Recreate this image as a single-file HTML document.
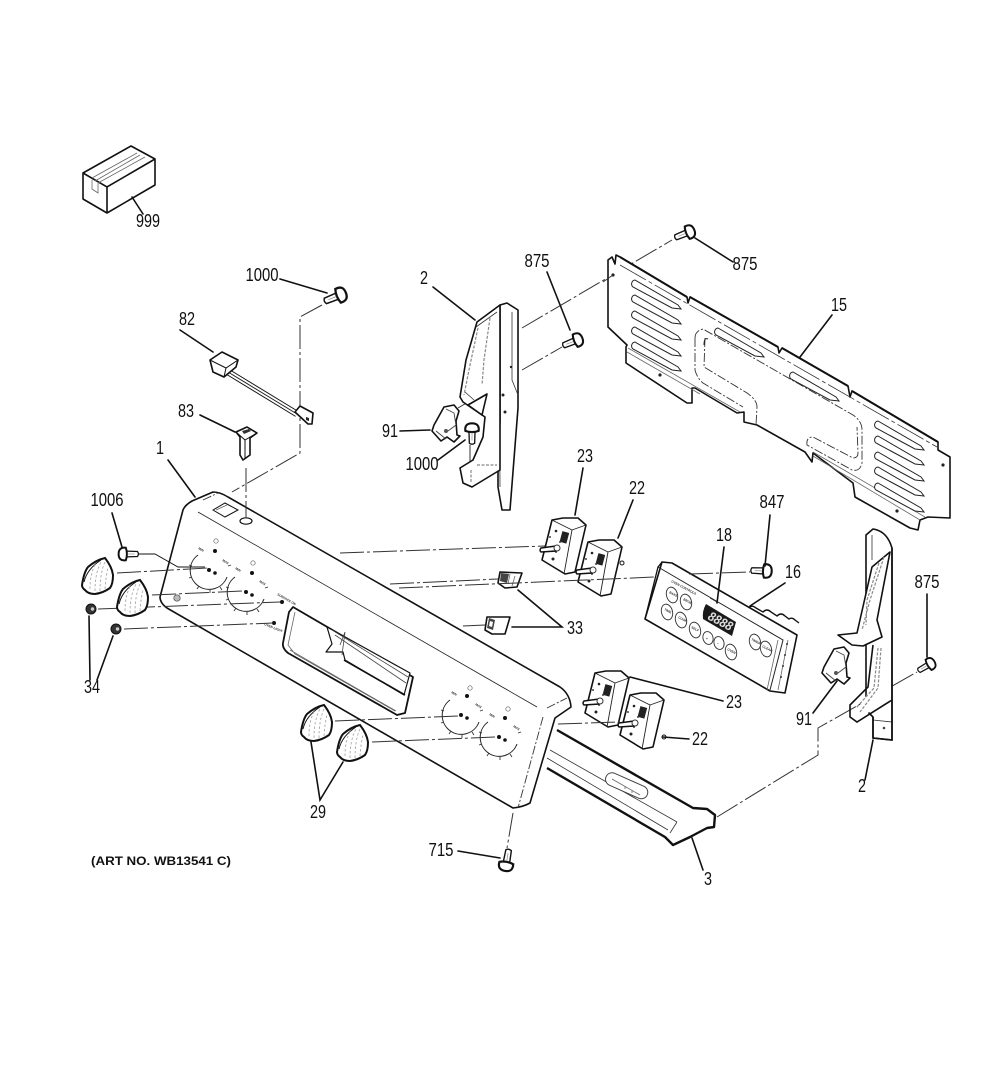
<!DOCTYPE html>
<html><head><meta charset="utf-8"><style>
html,body{margin:0;padding:0;background:#fff}
svg{display:block}
text{font-family:"Liberation Sans Narrow","Liberation Sans",sans-serif;fill:#111}
.l{font-size:18px;text-anchor:middle}
.t{font-size:3.2px;font-family:"Liberation Sans",sans-serif;font-weight:bold;fill:#333}
.o{fill:#fff;stroke:#111;stroke-width:1.6;stroke-linejoin:round}
.h{fill:none;stroke:#111;stroke-width:2.4;stroke-linejoin:round}
.n{fill:none;stroke:#111;stroke-width:1.6}
.s{fill:none;stroke:#666;stroke-width:.8}
.g{fill:none;stroke:#888;stroke-width:1.2;stroke-dasharray:3 1.5}
.d{fill:none;stroke:#333;stroke-width:1;stroke-dasharray:24 3 3 3}
.w{fill:none;stroke:#333;stroke-width:.9;stroke-dasharray:9 2 2 2}
</style></head><body>
<svg xmlns="http://www.w3.org/2000/svg" width="1000" height="1067" viewBox="0 0 1000 1067">
<defs>
<g id="screw"><path d="M-15,-2.8L-2,-3.2L-2,3.2L-15,2.8Q-17,0 -15,-2.8Z" fill="#fff" stroke="#111" stroke-width="1.4"/><path d="M-2,-7Q6,-8 6,0Q6,8 -2,7Q-4.5,0 -2,-7Z" fill="#fff" stroke="#111" stroke-width="2.2"/><path d="M-12,0H-4" stroke="#999" stroke-width=".8"/></g>
<g id="knob"><path d="M-16,10Q-14,-3 -10,-8Q-2,-15 7,-17Q14,-8 15,0Q15,9 12,13Q5,18 -3,19Q-10,19 -13,15Q-16,13 -16,10Z" fill="#fff" stroke="#111" stroke-width="2"/><path d="M-14,7Q-11,-6 3,-15" fill="none" stroke="#111" stroke-width="1"/><path d="M-8,14Q-8,-2 -2,-12M-3,16Q-3,-2 3,-13M2,16Q2,-2 7,-13M7,14Q8,0 10,-7" fill="none" stroke="#aaa" stroke-width=".9" stroke-dasharray="2.5 2"/></g>
<g id="sw"><path d="M-13,-25L-2,-27L13,-27L21,-20L10,27L0,29L-23,15Z" fill="#fff" stroke="#111" stroke-width="1.6" stroke-linejoin="round"/><path d="M-13,-25L7,-15L-1,29M7,-15L21,-20" fill="none" stroke="#222" stroke-width=".9"/><rect x="-4" y="-13" width="7" height="11" transform="rotate(15 0 -8)" fill="#222"/><circle cx="-9" cy="-14" r="1.3" fill="#222"/><circle cx="-15" cy="-8" r="1" fill="#444"/><circle cx="-12" cy="14" r="1.5" fill="#222"/><circle cx="-5" cy="-3" r="1" fill="#444"/><circle cx="-9" cy="7" r="1" fill="#444"/><path d="M-24,3L-9,1L-9,6L-24,7Q-26,5 -24,3Z" fill="#fff" stroke="#111" stroke-width="1.5"/><circle cx="-8" cy="3" r="3" fill="#fff" stroke="#333" stroke-width="1"/></g>
<g id="clip"><path d="M5,18L15,0L25,-2L30,4L27,14L28,28L31,29L25,35L18,30L12,34L3,24Z" fill="#fff" stroke="#111" stroke-width="1.6" stroke-linejoin="round" transform="translate(-3,-8)"/><path d="M14,-6L22,-2L24,10L16,16M4,16L14,24" fill="none" stroke="#444" stroke-width=".9"/><circle cx="14" cy="16" r="2" fill="#555"/></g>
<path id="slot" d="M0,0L43,25L46,29L37,28L-2,7A4,4 0 0 1 0,0Z" fill="#fff" stroke="#222" stroke-width="1"/>
<g id="dial"><path d="M-12,-15A19,19 0 1 0 17,7" fill="none" stroke="#222" stroke-width="1"/><path d="M-18,-4l-3,-1M-18,7l-3,1M-11,16l-2,3M0,20v3M10,17l2,3M18,-4l3,-1" stroke="#333" stroke-width=".9"/><circle cx="5" cy="-19" r="2" fill="#111"/><circle cx="-1" cy="0" r="2" fill="#111"/><circle cx="5" cy="3" r="1.8" fill="#111"/></g>
</defs>

<!-- connector dash lines behind -->
<path class="d" d="M322,305L300,317V453L232,492"/>
<path class="d" d="M522,328L672,240"/>
<path class="d" d="M522,370L562,347"/>
<path class="d" d="M458,408L502,382"/>
<path class="d" d="M470,445V487"/>
<path class="d" d="M513,813L507,848"/>
<path class="d" d="M717,817L818,755V728L917,672"/>

<!-- 999 box -->
<path class="o" d="M83,173L131,146L155,159V185L107,213L83,199Z"/>
<path class="n" d="M83,173L107,187L155,159M107,187V213"/>
<path class="s" d="M92,178L137,153M98,183L145,157M95,181L140,155"/>
<path class="s" d="M92,180V189L98,193V183"/>

<!-- 82 harness -->
<path fill="none" stroke="#111" stroke-width="6.5" d="M228,372L297,414"/>
<path fill="none" stroke="#fff" stroke-width="4.6" d="M228,372L297,414"/>
<path fill="none" stroke="#222" stroke-width="1" d="M228,372L297,414"/>
<path class="o" d="M210,360L222,352L238,360L236,367L224,377L213,372Z"/>
<path class="n" style="stroke-width:1" d="M210,360L226,368L238,360M226,368L224,377"/>
<path class="o" d="M295,412L300,406L313,413L312,424L308,424Z"/>
<path fill="#222" d="M306,417l3,1v3l-3,-1z"/>

<!-- 83 -->
<path class="o" d="M236,432L247,427L257,433L250,438V455L243,460L240,455V437Z"/>
<path class="n" style="stroke-width:1" d="M236,432L245,440L257,433M245,440V458"/>
<path fill="#333" d="M242,431l7,-2l2,2l-7,3z"/>

<!-- 15 back plate -->
<path class="o" d="M608,260L612,257L615,264L616,255L620,257L687,297L688,303L690,297L778,347L779,353L782,348L848,386L850,397L852,391L938,442L938,450L950,457V518L928,517L920,520L918,530L910,528L855,497L853,483L813,453L812,462L805,452L757,425L744,422V412L737,413L695,388H692V403L687,403L626,363V347L627,345L608,327Z"/>
<path class="h" style="stroke-width:2" d="M620,257L687,297M690,297L778,347M782,348L848,386M852,391L938,442"/>
<path class="d" style="stroke-width:.8;stroke-dasharray:30 3 4 3" d="M620,265L937,447"/>
<path class="s" d="M628,348L740,412M627,352L700,394M813,452L925,517M813,456L920,520"/>
<path class="w" d="M695,338Q695,331 703,329L853,415Q862,421 862,430V463Q860,472 852,470L807,445Q806,437 813,437L853,458Q858,458 858,453L857,427"/>
<path class="w" d="M705,338L704,367L747,393Q757,400 757,407L756,425M695,338V370Q697,378 703,383L743,407"/>
<path class="s" style="stroke:#222;stroke-width:1" d="M704,345Q704,337 708,339"/>
<g>
<use href="#slot" x="635" y="280"/><use href="#slot" x="635" y="295"/><use href="#slot" x="635" y="311"/><use href="#slot" x="635" y="327"/><use href="#slot" x="635" y="342"/>
<use href="#slot" x="718" y="328"/><use href="#slot" x="793" y="372"/>
<use href="#slot" x="878" y="421"/><use href="#slot" x="878" y="436"/><use href="#slot" x="878" y="452"/><use href="#slot" x="878" y="467"/><use href="#slot" x="878" y="483"/>
</g>
<circle cx="613" cy="275" r="1.6" fill="#222"/><circle cx="943" cy="465" r="1.6" fill="#222"/><circle cx="660" cy="375" r="1.6" fill="#222"/><circle cx="897" cy="511" r="1.6" fill="#222"/>
<path class="d" d="M603,282L613,275"/>

<!-- upper bracket 2 -->
<path class="o" d="M500,305L507,303L518,310V408L510,510L502,510L498,487V470L500,420Z"/>
<path class="s" style="stroke:#333" d="M512,312V380L518,395M499,310L500,487"/>
<path class="o" d="M477,322L500,305L500,470L472,487L463,483L460,468L473,460L483,437L485,417L463,402L460,397L466,360Z"/>
<path class="g" d="M478,328L470,365L464,395M490,318L484,360L482,385M477,465H497M471,470V483"/>
<path class="s" style="stroke:#333" d="M476,327L497,312M465,392L474,400"/>
<path class="o" d="M468,405L487,394L482,415Z"/>
<circle cx="503" cy="395" r="1.5" fill="#222"/><circle cx="505" cy="412" r="1.5" fill="#222"/><circle cx="511" cy="367" r="1.2" fill="#222"/>
<use href="#clip" x="432" y="415"/>
<use href="#screw" transform="translate(472,429) rotate(-90) scale(.95)" />
<use href="#screw" transform="translate(689,232) rotate(-22) scale(.95)"/>
<use href="#screw" transform="translate(340,295) rotate(-22) scale(1.05)"/>
<use href="#screw" transform="translate(577,340) rotate(-22) scale(.95)"/>
<use href="#screw" transform="translate(124,554) rotate(180) scale(.9)"/>
<use href="#screw" transform="translate(766,571) rotate(2) scale(.95)"/>
<use href="#screw" transform="translate(930,664) rotate(-30) scale(.85)"/>
<use href="#screw" transform="translate(506,865) rotate(100) scale(1)"/>

<!-- bracket 3 -->
<path class="o" style="stroke:none" d="M557,730L693,808L707,809L715,815L714,827L707,828L690,837L673,845L665,837L547,768Z"/>
<path class="h" d="M557,730L693,808L707,809L715,815L714,827L707,828L690,837L673,845L665,837L547,768"/>
<path class="s" style="stroke:#333" d="M550,750L677,822M547,758L668,830M677,822L670,833"/>
<rect x="604" y="779" width="45" height="13" rx="6.5" transform="rotate(24 626 786)" fill="#fff" stroke="#444" stroke-width="1"/>
<path class="s" d="M612,779L640,795M625,786v3M632,790v3"/>

<!-- main panel -->
<path class="o" d="M183,510Q185,505 192,501L213,492Q220,492 228,497L560,687Q570,694 571,707L555,718L530,803Q523,807 513,808L167,608Q160,603 160,597Z"/>
<path class="s" style="stroke:#222" d="M198,512L537,707"/>
<path class="w" d="M203,500L218,493M547,708L567,698M543,717L518,808"/>
<path class="n" style="stroke-width:1" d="M213,510L225,503L238,510L225,517Z"/>
<path class="s" d="M216,510L227,505"/>
<ellipse cx="246" cy="521" rx="6" ry="3.2" fill="#fff" stroke="#111" stroke-width="1.2"/>
<path class="o" style="stroke-width:1.8" d="M293,607L413,677L405,713L397,715L288,653Q282,648 283,643L289,612Z"/>
<path class="s" d="M295,612L288,645L295,654L395,711M290,650L396,711"/>
<path class="o" style="stroke-width:1.2;fill:#fff" d="M327,627L410,673L404,695L345,660L343,652L326,652L332,644Z"/>
<path class="s" style="stroke:#444" d="M332,630L408,677M335,635L406,683M340,645L345,632L342,655"/>
<path class="n" style="stroke-width:1.6" d="M344,660L405,695"/>
<use href="#dial" x="210" y="570"/><use href="#dial" x="247" y="592"/><use href="#dial" x="462" y="715"/><use href="#dial" x="500" y="737"/>
<text class="t" transform="translate(198,549) rotate(30)">MIN</text><text class="t" transform="translate(222,561) rotate(30)">MAX</text>
<text class="t" transform="translate(235,569) rotate(30)">MIN</text><text class="t" transform="translate(259,582) rotate(30)">MAX</text>
<text class="t" transform="translate(451,693) rotate(30)">MIN</text><text class="t" transform="translate(475,705) rotate(30)">MAX</text>
<text class="t" transform="translate(489,715) rotate(30)">MIN</text><text class="t" transform="translate(513,727) rotate(30)">MAX</text>
<circle cx="216" cy="541" r="2.2" fill="none" stroke="#666" stroke-width=".7"/><circle cx="253" cy="563" r="2.2" fill="none" stroke="#666" stroke-width=".7"/><circle cx="470" cy="688" r="2.2" fill="none" stroke="#666" stroke-width=".7"/><circle cx="508" cy="709" r="2.2" fill="none" stroke="#666" stroke-width=".7"/>
<circle cx="177" cy="598" r="3.2" fill="#bbb" stroke="#444" stroke-width=".7"/>
<circle cx="282" cy="602" r="2" fill="#111"/><circle cx="274" cy="623" r="2" fill="#111"/>
<text class="t" transform="translate(277,595) rotate(30)">SURFACE ON</text><text class="t" transform="translate(264,625) rotate(22)">OVEN LIGHT</text>

<!-- dash lines in front of the panel -->
<path class="d" d="M246,468V518"/>
<path class="d" d="M340,553L545,546"/>
<path class="d" d="M390,584L498,579"/>
<path class="d" d="M463,626L485,625"/>
<path class="d" d="M117,573L208,568"/>
<path class="d" d="M152,595L243,591"/>
<path class="d" d="M98,609L280,602"/>
<path class="d" d="M124,629L273,623"/>
<path class="d" d="M335,721L458,716"/>
<path class="d" d="M372,742L495,737"/>
<path class="n" style="stroke-width:.9" d="M138,554H155L178,567H205"/>

<!-- knobs -->
<use href="#knob" x="98" y="575"/><use href="#knob" x="133" y="597"/><use href="#knob" x="317" y="722"/><use href="#knob" x="353" y="742"/>
<circle cx="91" cy="609" r="5" fill="#333" stroke="#111"/><circle cx="92.5" cy="609" r="1.7" fill="#ccc"/>
<circle cx="116" cy="629" r="5" fill="#333" stroke="#111"/><circle cx="117.5" cy="629" r="1.7" fill="#ccc"/>

<!-- switches -->
<use href="#sw" x="565" y="545"/><use href="#sw" x="601" y="567"/><circle cx="622" cy="563" r="2" fill="#fff" stroke="#111"/>
<use href="#sw" x="608" y="698"/><use href="#sw" x="643" y="720"/><circle cx="664" cy="737" r="2" fill="#fff" stroke="#111"/>
<path class="d" d="M558,724L620,722"/>

<!-- 33 clips -->
<path class="o" d="M500,572L522,573L517,587L505,588L498,583Z"/><path fill="#444" d="M501,573l8,1l-2,9l-7,-2z"/><path class="s" d="M510,574l-2,10M515,576l-3,10"/>
<path class="o" d="M487,617L510,617L505,634L492,634L485,630Z"/><path fill="#444" d="M489,618l6,2l-2,10l-6,-2z"/><path fill="#fff" d="M490,621l3,1l-1,5l-3,-1z"/>

<path class="d" d="M399,588L655,577"/>

<!-- 16 control -->
<path class="n" style="stroke-width:1.4" d="M748,609q3,-5 8,-1l7,4q4,-4 8,0l6,4q4,-4 8,0l4,3q3,-2 6,1l4,3"/>
<path class="o" d="M662,562L672,563L797,635L785,693L770,691L645,619Z"/>
<path class="s" style="stroke:#222;stroke-width:1" d="M658,567L783,640L770,690"/>
<path class="n" style="stroke-width:1.3" d="M662,562L658,567L645,619"/>
<path class="s" d="M778,640L767,690M788,640L778,690"/>
<circle cx="787" cy="644" r="1" fill="#333"/><circle cx="785" cy="655" r="1" fill="#333"/><circle cx="783" cy="666" r="1" fill="#333"/><circle cx="781" cy="677" r="1" fill="#333"/>
<path fill="#1a1a1a" d="M706,604L736,622L732,636L703,619Q702,611 706,604Z"/>
<text x="707" y="619" style="font:italic bold 13px 'Liberation Sans',sans-serif;fill:#ddd" textLength="26" lengthAdjust="spacingAndGlyphs" transform="rotate(28 707 619)">8888</text>
<path class="s" style="stroke:#333" d="M710,598L717,602"/>
<text class="t" transform="translate(671,582) rotate(28)">OVEN CONTROLS</text>
<g fill="#fff" stroke="#333" stroke-width=".9">
<ellipse cx="672" cy="595" rx="5.5" ry="8" transform="rotate(-15 672 595)"/><ellipse cx="686" cy="602" rx="5.5" ry="8" transform="rotate(-15 686 602)"/><ellipse cx="667" cy="612" rx="5.5" ry="8" transform="rotate(-15 667 612)"/><ellipse cx="681" cy="620" rx="5.5" ry="8" transform="rotate(-15 681 620)"/><ellipse cx="695" cy="630" rx="5.5" ry="8" transform="rotate(-15 695 630)"/><ellipse cx="708" cy="638" rx="5" ry="6.5" transform="rotate(-15 708 638)"/><ellipse cx="719" cy="643" rx="5" ry="6.5" transform="rotate(-15 719 643)"/><ellipse cx="731" cy="652" rx="5.5" ry="8" transform="rotate(-15 731 652)"/><ellipse cx="755" cy="642" rx="5.5" ry="8" transform="rotate(-15 755 642)"/><ellipse cx="766" cy="649" rx="5.5" ry="8" transform="rotate(-15 766 649)"/>
</g>
<g>
<text class="t" transform="translate(669,593) rotate(28)">BAKE</text><text class="t" transform="translate(683,600) rotate(28)">BROIL</text><text class="t" transform="translate(664,610) rotate(28)">TIME</text><text class="t" transform="translate(678,618) rotate(28)">COOK</text><text class="t" transform="translate(691,628) rotate(28)">SELF</text><text class="t" transform="translate(706,640) rotate(0)">+</text><text class="t" transform="translate(717,645) rotate(0)">−</text><text class="t" transform="translate(727,650) rotate(28)">OVEN</text><text class="t" transform="translate(751,640) rotate(28)">TIMER</text><text class="t" transform="translate(762,647) rotate(28)">CLEAR</text>
</g>
<path class="d" d="M689,574L750,572"/>

<!-- right bracket 2 -->
<path class="o" d="M866,535L873,529Q887,531 892,548L892,740L873,738V717L866,710Z"/>
<path class="s" style="stroke:#333" d="M872,535V560M873,720L892,722"/>
<path class="o" d="M890,552L872,567L857,633L838,635L852,645L863,646L882,637L877,620Z"/>
<path class="g" d="M884,557L870,600L862,630M879,563L867,600L866,625"/>
<path class="o" style="stroke:none" d="M875,644H891V698L860,718L854,714L870,690Z"/>
<path d="M873,645L868,687L850,705V717L857,722L892,700" class="n"/>
<path class="g" d="M878,648L874,688L856,708M881,648L878,688L860,712"/>
<path class="n" d="M892,548V740L873,738V717"/>
<use href="#clip" x="822" y="657"/>
<circle cx="884" cy="728" r="1.3" fill="#444"/>

<!-- leaders -->
<path class="n" stroke-linecap="round" d="M132,197L143,214M280,279L327,293M180,330L213,352M200,415L235,432M433,287L475,320M547,272L570,330M733,262L695,238M832,315L800,357M400,431L430,430M438,460L465,440M168,460L195,497M583,468L575,515M633,500L618,538M112,513L122,547M770,515L765,566M724,547L717,603M785,583L750,606M927,594V657M518,590L562,627L512,627M89,616L90,680M113,636L97,680M630,677L723,701M663,737L689,739M837,681L813,713M873,740L865,780M311,742L320,800L343,762M458,851L500,858M692,838L703,870"/>

<!-- labels -->
<g>
<text class="l" x="148" y="227" textLength="24" lengthAdjust="spacingAndGlyphs">999</text>
<text class="l" x="262" y="281" textLength="33" lengthAdjust="spacingAndGlyphs">1000</text>
<text class="l" x="187" y="325" textLength="16" lengthAdjust="spacingAndGlyphs">82</text>
<text class="l" x="424" y="284" textLength="8" lengthAdjust="spacingAndGlyphs">2</text>
<text class="l" x="537" y="267" textLength="25" lengthAdjust="spacingAndGlyphs">875</text>
<text class="l" x="745" y="270" textLength="25" lengthAdjust="spacingAndGlyphs">875</text>
<text class="l" x="839" y="311" textLength="16" lengthAdjust="spacingAndGlyphs">15</text>
<text class="l" x="186" y="417" textLength="16" lengthAdjust="spacingAndGlyphs">83</text>
<text class="l" x="390" y="437" textLength="16" lengthAdjust="spacingAndGlyphs">91</text>
<text class="l" x="422" y="470" textLength="33" lengthAdjust="spacingAndGlyphs">1000</text>
<text class="l" x="160" y="454" textLength="8" lengthAdjust="spacingAndGlyphs">1</text>
<text class="l" x="585" y="462" textLength="16" lengthAdjust="spacingAndGlyphs">23</text>
<text class="l" x="637" y="494" textLength="16" lengthAdjust="spacingAndGlyphs">22</text>
<text class="l" x="107" y="506" textLength="33" lengthAdjust="spacingAndGlyphs">1006</text>
<text class="l" x="772" y="508" textLength="25" lengthAdjust="spacingAndGlyphs">847</text>
<text class="l" x="724" y="541" textLength="16" lengthAdjust="spacingAndGlyphs">18</text>
<text class="l" x="793" y="578" textLength="16" lengthAdjust="spacingAndGlyphs">16</text>
<text class="l" x="927" y="588" textLength="25" lengthAdjust="spacingAndGlyphs">875</text>
<text class="l" x="575" y="634" textLength="16" lengthAdjust="spacingAndGlyphs">33</text>
<text class="l" x="92" y="693" textLength="16" lengthAdjust="spacingAndGlyphs">34</text>
<text class="l" x="734" y="708" textLength="16" lengthAdjust="spacingAndGlyphs">23</text>
<text class="l" x="700" y="745" textLength="16" lengthAdjust="spacingAndGlyphs">22</text>
<text class="l" x="804" y="725" textLength="16" lengthAdjust="spacingAndGlyphs">91</text>
<text class="l" x="862" y="792" textLength="8" lengthAdjust="spacingAndGlyphs">2</text>
<text class="l" x="318" y="818" textLength="16" lengthAdjust="spacingAndGlyphs">29</text>
<text class="l" x="441" y="856" textLength="25" lengthAdjust="spacingAndGlyphs">715</text>
<text class="l" x="708" y="885" textLength="8" lengthAdjust="spacingAndGlyphs">3</text>
<text x="91" y="865" textLength="140" lengthAdjust="spacingAndGlyphs" style="font:bold 12px 'Liberation Sans',sans-serif">(ART NO. WB13541 C)</text>
</g>
</svg>
</body></html>
